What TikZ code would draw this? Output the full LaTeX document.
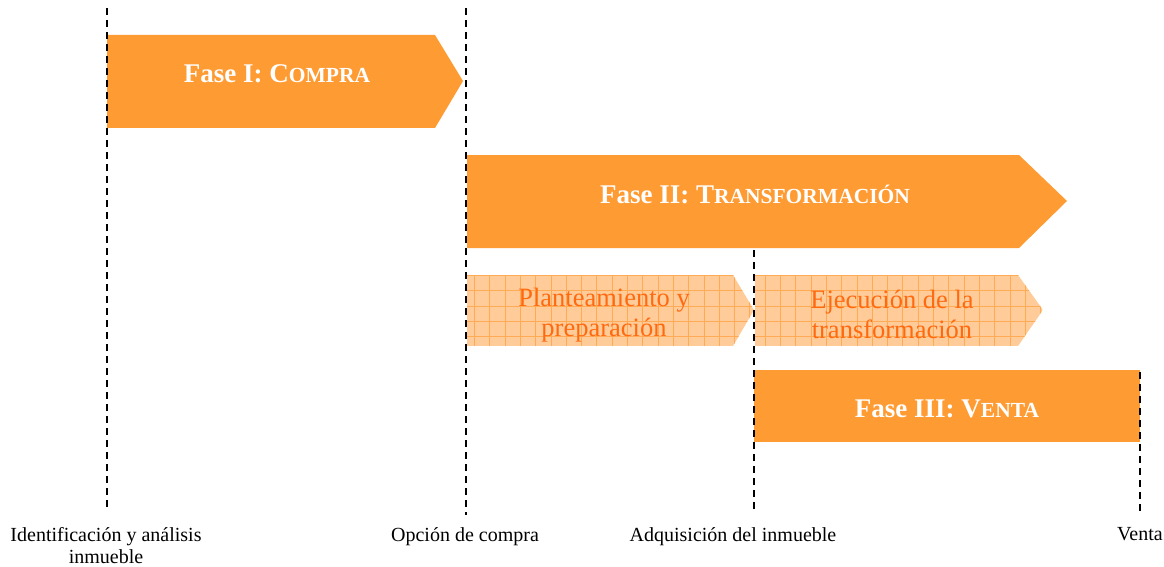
\documentclass[tikz,border=0pt]{standalone}
\usepackage{fontspec}
\setmainfont{Liberation Serif}
\definecolor{fase}{HTML}{FF9B33}
\definecolor{light}{HTML}{FFCC99}
\definecolor{gridc}{HTML}{FFAA55}
\definecolor{ltext}{HTML}{FF6A10}
\newcommand\smcap[1]{{\fontsize{21.5}{21.5}\selectfont #1}}
\tikzset{
  dline/.style={line width=1.5pt, dash pattern=on 7pt off 5pt},
  fasebox/.style={fill=fase, draw=none},
  fasetext/.style={text=white, font=\fontsize{27}{30}\selectfont\bfseries},
  subtext/.style={text=ltext, align=center, font=\fontsize{26.5}{30}\selectfont},
  lbl/.style={align=center, font=\fontsize{20}{22}\selectfont, inner sep=0pt}
}
\begin{document}
\begin{tikzpicture}[x=1pt,y=-1pt]
\useasboundingbox (0,0) rectangle (1164,567);
% Fase I
\fill[fasebox] (107,35) -- (435,35) -- (463,81) -- (435,128) -- (107,128) -- cycle;
\node[fasetext] (f1) at (277,74) {Fase I: C\smcap{OMPRA}};
% Fase II
\fill[fasebox] (467,155) -- (1019,155) -- (1067,201) -- (1019,248) -- (467,248) -- cycle;
\node[fasetext] (f2) at (755,194) {Fase II: T\smcap{RANSFORMACIÓN}};
% Sub phases with grid
\begin{scope}
\clip (467,275) -- (733,275) -- (754,310) -- (733,346) -- (467,346) -- cycle;
\fill[light] (467,275) rectangle (754,346);
\draw[gridc, line width=0.5pt] (467,275) grid[step=15.3pt] (754,346);
\end{scope}
\begin{scope}
\clip (755,275) -- (1018,275) -- (1043,310) -- (1018,346) -- (755,346) -- cycle;
\fill[light] (755,275) rectangle (1043,346);
\draw[gridc, line width=0.5pt] (755,275) grid[step=15.3pt] (1043,346);
\end{scope}
\node[subtext] (s1) at (604,315) {Planteamiento y\\preparación};
\node[subtext] (s2) at (892,314) {Ejecución de la\\transformación};
% Fase III
\fill[fasebox] (754,370) rectangle (1140,442);
\node[fasetext] (f3) at (947,409) {Fase III: V\smcap{ENTA}};
% dashed lines
\coordinate (t1) at (107,8);
\coordinate (b1) at (107,510);
\coordinate (t2) at (466,8);
\coordinate (b2) at (466,515);
\coordinate (t3) at (754,250);
\coordinate (b3) at (754,510);
\coordinate (t4) at (1140,372);
\coordinate (b4) at (1140,515);
\draw[dline] (t1) -- (b1);
\draw[dline] (t2) -- (b2);
\draw[dline] (t3) -- (b3);
\draw[dline] (t4) -- (b4);
% labels
\node[lbl, anchor=north] (l1) at (106,527) {Identificación y análisis\\inmueble};
\node[lbl, anchor=north] (l2) at (465,527) {Opción de compra};
\node[lbl, anchor=north] (l3) at (733,527) {Adquisición del inmueble};
\node[lbl, anchor=north] (l4) at (1140,527) {Venta};
\end{tikzpicture}
\end{document}
